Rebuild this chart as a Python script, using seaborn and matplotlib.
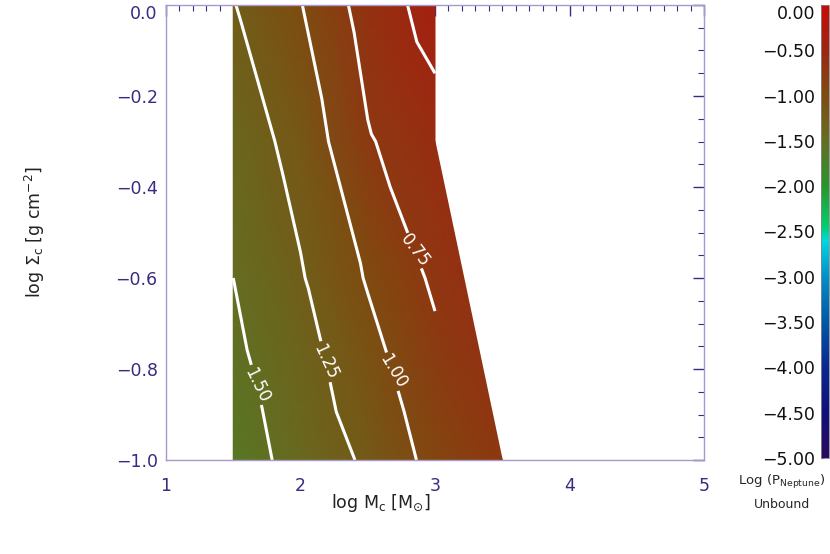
import numpy as np
import matplotlib
matplotlib.use('Agg')
import matplotlib.pyplot as plt
import matplotlib.tri as mtri
from matplotlib.colors import LinearSegmentedColormap
from matplotlib.ticker import MultipleLocator, FuncFormatter
import seaborn as sns

#--------------------------------------------------------
# model grid: log Mc (columns) x log Sigma_c (rows), values = log P_Neptune unbound
log_mc=[1.5, 2.0, 2.5, 3.0]
log_sig=[0.0, -0.3, -0.6, -0.8, -1.0]
log_p=[
	[-1.26, -1.01, -0.645, -0.40],
	[-1.39, -1.164, -0.77, -0.60],
	[-1.50, -1.27, -0.98, -0.71],
	[-1.56, -1.35, -1.10, -0.82],
	[-1.61, -1.42, -1.21, -0.92],
]
# one extra run at high mass, lowest surface density
extra_mc=[3.5]
extra_sig=[-1.0]
extra_p=[-0.74]

levels=[-1.5, -1.25, -1.0, -0.75, -0.5]
lab_levels=[-1.5, -1.25, -1.0, -0.75]
cbar_ticks=[0.0, -0.5, -1.0, -1.5, -2.0, -2.5, -3.0, -3.5, -4.0, -4.5, -5.0]

# colour table (value, colour)
ct_vals=[-5.0, -4.5, -4.0, -3.5, -3.0, -2.6, -2.45, -2.0, -1.5, -1.0, -0.5, 0.0]
ct_cols=['#2a0a5e', '#10107c', '#0a2890', '#0058a8', '#0090c8', '#00d8e0',
	'#00d070', '#28962a', '#646e22', '#7e4c10', '#9c2612', '#c80a08']

tick_col='#3a2a80'
spine_col='#a898cc'

#--------------------------------------------------------
sns.set_style('white')
plt.rcParams['font.family']=['DejaVu Sans']
plt.rcParams['mathtext.default']='regular'

vmin, vmax=-5.0, 0.0
cmap=LinearSegmentedColormap.from_list(
	'idl', [((v-vmin)/(vmax-vmin), c) for v, c in zip(ct_vals, ct_cols)])

mc, sg=np.meshgrid(log_mc, log_sig)
x=np.concatenate([mc.ravel(), extra_mc])
y=np.concatenate([sg.ravel(), extra_sig])
z=np.concatenate([np.array(log_p).ravel(), extra_p])

tri_f=mtri.Triangulation(x, y)
tv=tri_f.triangles
mask_f=(x[tv]>=3).all(axis=1) & (y[tv].max(axis=1)>-0.3)
tri_f.set_mask(mask_f)
#contours only on the regular grid
tri_l=mtri.Triangulation(x, y)
tri_l.set_mask(mask_f | (x[tv].max(axis=1)>3))

def fmt_minus(v, nd):
	s=f'{v:.{nd}f}'
	return s.replace('-', '\u2212')

#--------------------------------------------------------
fig=plt.figure(figsize=(8.3, 5.54), dpi=100)
ax=fig.add_axes([166/830, 1-460/554, 538/830, 455/554])
cax=fig.add_axes([821/830, 1-458/554, 8/830, 453/554])

pc=ax.tripcolor(tri_f, z, shading='gouraud', cmap=cmap, vmin=vmin, vmax=vmax)
cs=ax.tricontour(tri_l, z, levels=levels, colors='white', linewidths=2.2,
	linestyles='solid')
ax.clabel(cs, levels=lab_levels, fmt=lambda v: f'{abs(v):.2f}', fontsize=12,
	inline=True, inline_spacing=4,
	manual=[(1.62, -0.85), (2.2, -0.78), (2.7, -0.8), (2.87, -0.53)])

ax.set_xlim(1, 5)
ax.set_ylim(-1, 0)
ax.xaxis.set_major_locator(MultipleLocator(1))
ax.xaxis.set_minor_locator(MultipleLocator(0.1))
ax.yaxis.set_major_locator(MultipleLocator(0.2))
ax.yaxis.set_minor_locator(MultipleLocator(0.05))
ax.yaxis.set_major_formatter(FuncFormatter(lambda v, p: fmt_minus(v, 1)))
ax.tick_params(which='both', direction='in', top=True, right=True,
	color=tick_col, labelcolor=tick_col, labelsize=12.5)
ax.tick_params(which='major', length=8, width=1)
ax.tick_params(which='minor', length=4, width=0.8)
ax.tick_params(axis='x', pad=12)
ax.tick_params(axis='y', pad=6)
for s in ax.spines.values():
	s.set_color(spine_col)
	s.set_linewidth(1)

ax.set_xlabel(r'log M$_{\rm c}$ [M$_{{\odot}}$]', fontsize=12.5, color='#222222')
ax.xaxis.set_label_coords(0.40, -0.07)
ax.set_ylabel(r'log $\Sigma_{\rm c}$ [g cm$^{-2}$]', fontsize=12.5, color='#222222')
ax.yaxis.set_label_coords(-0.222, 0.5)

cb=fig.colorbar(pc, cax=cax, ticks=cbar_ticks)
cax.yaxis.set_ticks_position('left')
cax.yaxis.set_major_formatter(FuncFormatter(lambda v, p: fmt_minus(v, 2)))
cax.tick_params(direction='in', length=2, labelsize=12.5, labelcolor='#111111', pad=4)
cb.outline.set_edgecolor('#888888')
cb.outline.set_linewidth(0.6)

fig.text(782/830, 1-482/554, r'Log (P$_{\rm Neptune}$)', ha='center', va='center', fontsize=9.5)
fig.text(782/830, 1-505/554, 'Unbound', ha='center', va='center', fontsize=9)

#keep the top labels inside the figure
fig.canvas.draw()
for lab in ax.get_yticklabels()+cax.get_yticklabels():
	if lab.get_text() in ('0.0', '0.00'):
		lab.set_va('top')

plt.savefig('out.png', dpi=100)
plt.close()
